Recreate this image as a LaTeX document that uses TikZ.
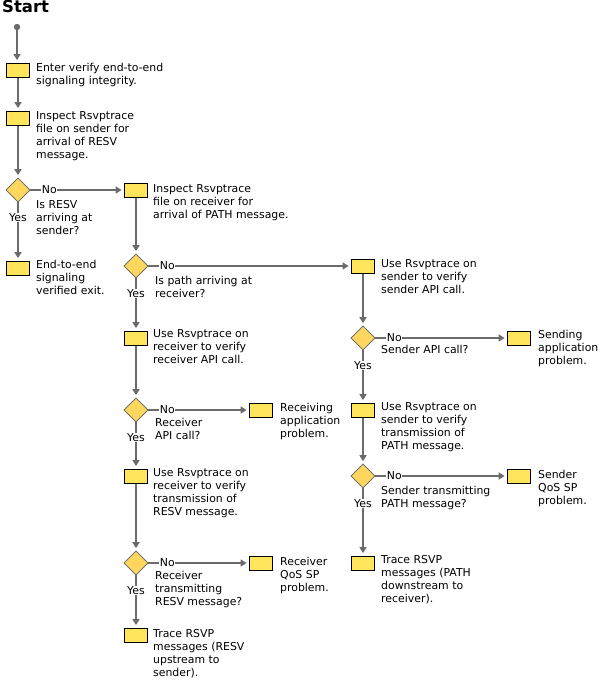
\documentclass[tikz,border=0pt]{standalone}
\usepackage{fontspec}
\setmainfont{DejaVu Sans}
\usetikzlibrary{shapes.geometric,arrows.meta}
\definecolor{ln}{HTML}{6B6B6B}
\definecolor{bx}{HTML}{FFE45C}
\definecolor{dm}{HTML}{FFD75E}
\begin{document}
\begin{tikzpicture}[x=1pt,y=-1pt,
  box/.style={draw=black, line width=0.8pt, fill=bx, minimum width=23pt, minimum height=14pt, inner sep=0pt},
  dia/.style={diamond, aspect=1, draw=ln, fill=dm, minimum width=24pt, minimum height=24pt, inner sep=0pt, line width=0.6pt},
  txt/.style={anchor=north west, align=left, inner sep=0pt, font=\fontsize{10.9}{13}\selectfont},
  lab/.style={fill=white, inner sep=0.6pt, font=\fontsize{10.9}{13}\selectfont},
  flow/.style={draw=ln, line width=2pt, -{Triangle[length=6pt,width=7pt]}, shorten >=2.5pt},
  wire/.style={draw=ln, line width=2pt}]
\useasboundingbox[fill=white] (0,0) rectangle (601,680);
\node[anchor=north west, inner sep=0pt, font=\fontsize{16.5}{16.5}\bfseries\selectfont] (title) at (2,0) {Start};
\fill[ln] (17,27) circle (3.2pt);
\coordinate (s) at (17,27);
% column 1
\node[box] (b1) at (18,70) {};
\node[box] (b2) at (18,118) {};
\node[dia] (d1) at (18,190) {};
\node[box] (b4) at (18,268) {};
% column 2
\node[box] (b3) at (136,190) {};
\node[dia] (d2) at (136,266) {};
\node[box] (b6) at (136,338) {};
\node[dia] (d3) at (136,410) {};
\node[box] (b8) at (136,476) {};
\node[dia] (d4) at (136,563) {};
\node[box] (b10) at (136,635) {};
% column 2b
\node[box] (b7) at (261,410) {};
\node[box] (b9) at (261,563) {};
% column 3
\node[box] (b5) at (363,266) {};
\node[dia] (d5) at (363,338) {};
\node[box] (b12) at (363,410) {};
\node[dia] (d6) at (363,476) {};
\node[box] (b14) at (363,563) {};
% column 4
\node[box] (b11) at (519,338) {};
\node[box] (b13) at (519,476) {};
% texts
\node[txt] (t1) at (36,63) {Enter verify end-to-end\\signaling integrity.};
\node[txt] (t2) at (36,111) {Inspect Rsvptrace\\file on sender for\\arrival of RESV\\message.};
\node[txt] (t3) at (36,200) {Is RESV\\arriving at\\sender?};
\node[txt] (t4) at (36,260) {End-to-end\\signaling\\verified exit.};
\node[txt] (t5) at (153,184) {Inspect Rsvptrace\\file on receiver for\\arrival of PATH message.};
\node[txt] (t6) at (155,276) {Is path arriving at\\receiver?};
\node[txt] (t7) at (381,259) {Use Rsvptrace on\\sender to verify\\sender API call.};
\node[txt] (t8) at (153,329) {Use Rsvptrace on\\receiver to verify\\receiver API call.};
\node[txt] (t9) at (381,345) {Sender API call?};
\node[txt] (t10) at (538,330) {Sending\\application\\problem.};
\node[txt] (t11) at (155,418) {Receiver\\API call?};
\node[txt] (t12) at (280,403) {Receiving\\application\\problem.};
\node[txt] (t13) at (381,402) {Use Rsvptrace on\\sender to verify\\transmission of\\PATH message.};
\node[txt] (t14) at (153,468) {Use Rsvptrace on\\receiver to verify\\transmission of\\RESV message.};
\node[txt] (t15) at (381,486) {Sender transmitting\\PATH message?};
\node[txt] (t16) at (538,470) {Sender\\QoS SP\\problem.};
\node[txt] (t17) at (155,571) {Receiver\\transmitting\\RESV message?};
\node[txt] (t18) at (280,557) {Receiver\\QoS SP\\problem.};
\node[txt] (t19) at (381,555) {Trace RSVP\\messages (PATH\\downstream to\\receiver).};
\node[txt] (t20) at (153,629) {Trace RSVP\\messages (RESV\\upstream to\\sender).};
% connectors
\draw[flow] (s) -- (b1.north -| s);
\draw[flow] (b1) -- (b2);
\draw[flow] (b2) -- (d1);
\draw[flow] (d1) -- (b4);
\draw[flow] (d1) -- (b3);
\draw[flow] (b3) -- (d2);
\draw[flow] (d2) -- (b6);
\draw[flow] (d2) -- (b5);
\draw[flow] (b6) -- (d3);
\draw[flow] (d3) -- (b7);
\draw[flow] (d3) -- (b8);
\draw[flow] (b8) -- (d4);
\draw[flow] (d4) -- (b9);
\draw[flow] (d4) -- (b10);
\draw[flow] (b5) -- (d5);
\draw[flow] (d5) -- (b11);
\draw[flow] (d5) -- (b12);
\draw[flow] (b12) -- (d6);
\draw[flow] (d6) -- (b13);
\draw[flow] (d6) -- (b14);
% redraw nodes over line ends
\foreach \n in {b1,b2,b3,b4,b5,b6,b7,b8,b9,b10,b11,b12,b13,b14}{\node[box] at (\n) {};}
\foreach \n in {d1,d2,d3,d4,d5,d6}{\node[dia] at (\n) {};}
% labels
\foreach \n in {d1,d2,d3,d4,d5,d6}{
  \node[lab] at ([xshift=19pt]\n.east) {No};
  \node[lab] at ([yshift=-15pt]\n.south) {Yes};
}
\end{tikzpicture}
\end{document}
